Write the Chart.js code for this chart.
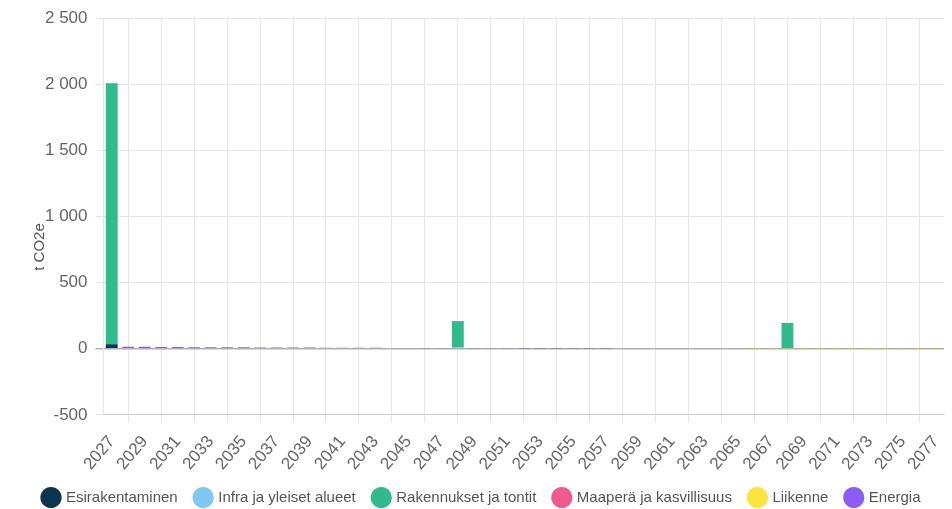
<!DOCTYPE html>
<html>
<head>
<meta charset="utf-8">
<script src="https://cdn.jsdelivr.net/npm/chart.js@4.4.0/dist/chart.umd.min.js"></script>
<style>
    html, body { margin: 0; padding: 0; background: #fff; }
    #wrap { width: 952px; height: 509px; }
</style>
</head>
<body>
<div id="wrap"><canvas id="chart"></canvas></div>
<script>
// Vuodet (kategoriat)
const years = ['2027', '2028', '2029', '2030', '2031', '2032', '2033', '2034', '2035', '2036',
    '2037', '2038', '2039', '2040', '2041', '2042', '2043', '2044', '2045', '2046',
    '2047', '2048', '2049', '2050', '2051', '2052', '2053', '2054', '2055', '2056',
    '2057', '2058', '2059', '2060', '2061', '2062', '2063', '2064', '2065', '2066',
    '2067', '2068', '2069', '2070', '2071', '2072', '2073', '2074', '2075', '2076', '2077'];

// Päästöt, t CO2e
const esirakentaminen = [35, 0, 0, 0, 0, 0, 0, 0, 0, 0, 0, 0, 0, 0, 0, 0, 0, 0, 0, 0, 0, 0, 0, 0, 0, 0,
    0, 0, 0, 0, 0, 0, 0, 0, 0, 0, 0, 0, 0, 0, 0, 0, 0, 0, 0, 0, 0, 0, 0, 0, 0];
const infra = [0, 0, 0, 0, 0, 0, 0, 0, 0, 0, 0, 0, 0, 0, 0, 0, 0, 0, 0, 0, 0, 10, 0, 0, 0, 0,
    0, 0, 0, 0, 0, 0, 0, 0, 0, 0, 0, 0, 0, 0, 0, 0, 0, 0, 0, 0, 0, 0, 0, 0, 0];
const rakennukset = [1973, 0, 0, 0, 0, 0, 0, 0, 0, 0, 0, 0, 0, 0, 0, 0, 0, 0, 0, 0, 0, 195, 0, 0, 0, 0,
    0, 0, 0, 0, 0, 0, 0, 0, 0, 0, 0, 0, 0, 0, 0, 195, 0, 0, 0, 0, 0, 0, 0, 0, 0];
const maapera = [0, 0, 0, 0, 0, 0, 0, 0, 0, 0, 0, 0, 0, 0, 0, 0, 0, 0, 0, 0, 0, 0, 0, 0, 0, 0,
    0, 0, 0, 0, 0, 0, 0, 0, 0, 0, 0, 0, 0, 0, 0, 0, 0, 0, 0, 0, 0, 0, 0, 0, 0];
const liikenne = [0, 0, 0, 0, 0, 0, 0, 0, 0, 0, 0, 0, 0, 0, 0, 0, 0, 0, 0, 0, 0, 0, 0, 0, 0, 0,
    0, 0, 0, 0, 0, 0, 0, 0, 0, 0, 0, 0, 0, -1, -1, -1, -1, -1, -1, -1, -1, -1, -1, -1, -1];
const energia = [0, 16, 15, 14, 13, 12, 12, 11, 11, 10, 10, 9, 9, 8, 8, 7, 7, 6, 6, 5, 5, 5, 4, 4, 4, 3,
    3, 3, 2, 2, 2, 0, 0, 0, 0, 0, 0, 0, 0, 0, 0, 0, 0, 0, 0, 0, 0, 0, 0, 0, 0];

// Y-akselin jaotus
const yTicks = [-500, 0, 500, 1000, 1500, 2000, 2500];
const yTitle = 't CO2e';

Chart.defaults.font.family = "'Liberation Sans', Arial, sans-serif";
Chart.defaults.color = '#666';

// akselin otsikko piirretään itse, jotta sen paikka vastaa alkuperäistä
const yTitlePlugin = {
    id: 'yTitle',
    afterDraw(chart) {
        const c = chart.ctx;
        c.save();
        c.translate(40, 247);
        c.rotate(-Math.PI / 2);
        c.font = "15px 'Liberation Sans', Arial, sans-serif";
        c.fillStyle = '#555';
        c.textAlign = 'center';
        c.textBaseline = 'middle';
        c.fillText(yTitle, 0, 0);
        c.restore();
    }
};

const ctx = document.getElementById('chart');
new Chart(ctx, {
    type: 'bar',
    data: {
        labels: years,
        datasets: [
            { label: 'Esirakentaminen', data: esirakentaminen, backgroundColor: '#0b3551' },
            { label: 'Infra ja yleiset alueet', data: infra, backgroundColor: '#7fc8ef' },
            { label: 'Rakennukset ja tontit', data: rakennukset, backgroundColor: '#2fbb8a' },
            { label: 'Maaperä ja kasvillisuus', data: maapera, backgroundColor: '#ee5b8c' },
            { label: 'Liikenne', data: liikenne, backgroundColor: '#fde43e' },
            { label: 'Energia', data: energia, backgroundColor: '#8b5cf6' }
        ]
    },
    plugins: [yTitlePlugin],
    options: {
        responsive: true,
        maintainAspectRatio: false,
        animation: false,
        layout: { padding: { left: 20, right: 8, top: 16, bottom: -6 } },
        plugins: {
            legend: {
                position: 'bottom',
                labels: {
                    usePointStyle: true,
                    pointStyle: 'circle',
                    color: '#555',
                    padding: 18,
                    font: { size: 15 }
                }
            },
            tooltip: { enabled: false }
        },
        scales: {
            x: {
                stacked: true,
                afterFit: (scale) => {
                    scale.height -= 11;
                    scale.paddingRight = 0;
                },
                grid: { color: '#e6e6e6' },
                ticks: {
                    color: '#666',
                    font: { size: 17 },
                    padding: 9,
                    minRotation: 50,
                    maxRotation: 50
                }
            },
            y: {
                stacked: true,
                min: yTicks[0],
                max: yTicks[yTicks.length - 1],
                afterFit: (scale) => { scale.width = 83.5; },
                grid: {
                    color: (c) => (c.tick && c.tick.value === 0 ? '#b0b0b0' : '#e6e6e6'),
                    lineWidth: (c) => (c.tick && c.tick.value === 0 ? 1.5 : 1)
                },
                ticks: {
                    stepSize: yTicks[1] - yTicks[0],
                    color: '#666',
                    padding: 8,
                    font: { size: 17 },
                    callback: function(value) {
                        const s = Math.abs(value).toString().replace(/\B(?=(\d{3})+(?!\d))/g, ' ');
                        return (value < 0 ? '-' : '') + s;
                    }
                }
            }
        }
    }
});
</script>
</body>
</html>
